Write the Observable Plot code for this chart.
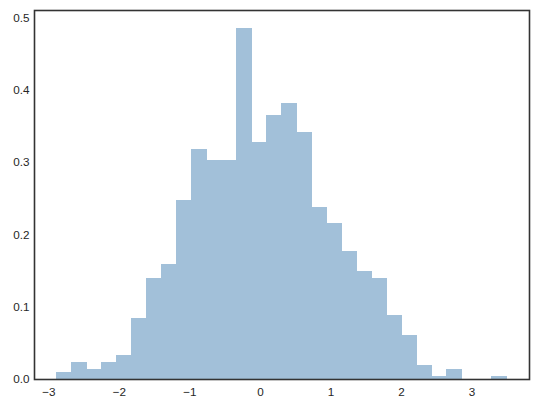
<!DOCTYPE html>
<html>
<head>
<meta charset="utf-8">
<script src="https://cdn.jsdelivr.net/npm/d3@7"></script>
<script src="https://cdn.jsdelivr.net/npm/@observablehq/plot@0.6"></script>
<style>
  html, body { margin: 0; padding: 0; background: #fff; }
  #chart svg { display: block; }
</style>
</head>
<body>
<div id="chart"></div>
<script>
// Bin edges (31) and density heights (30)
const binEdges = [-2.885, -2.672, -2.460, -2.247, -2.034, -1.822, -1.609, -1.396, -1.183, -0.971,
                  -0.758, -0.545, -0.333, -0.120, 0.093, 0.306, 0.518, 0.731, 0.944, 1.156,
                  1.369, 1.582, 1.795, 2.007, 2.220, 2.433, 2.645, 2.858, 3.071, 3.284, 3.496];
const densities = [0.0094, 0.0235, 0.0141, 0.0235, 0.0329, 0.0846, 0.139, 0.159, 0.248, 0.318,
                   0.303, 0.303, 0.486, 0.328, 0.365, 0.382, 0.342, 0.238, 0.216, 0.177,
                   0.149, 0.139, 0.088, 0.061, 0.0188, 0.0047, 0.0141, 0, 0, 0.0047];
const xTicks = [-3, -2, -1, 0, 1, 2, 3];
const yTicks = [0.0, 0.1, 0.2, 0.3, 0.4, 0.5];

const bins = densities.map((d, i) => ({x1: binEdges[i], x2: binEdges[i + 1], y: d}));

const xRange = binEdges[binEdges.length - 1] - binEdges[0];
const xDomain = [binEdges[0] - 0.05 * xRange, binEdges[binEdges.length - 1] + 0.05 * xRange];
const yDomain = [0, d3.max(densities) * 1.05];

const font = "'Liberation Sans', Arial, sans-serif";

const chart = Plot.plot({
  width: 540,
  height: 408,
  marginLeft: 34,
  marginRight: 11,
  marginTop: 10,
  marginBottom: 29,
  style: {fontFamily: font, fontSize: "11.7px", color: "#262626", background: "#fff"},
  x: {domain: xDomain},
  y: {domain: yDomain},
  marks: [
    Plot.rectY(bins, {x1: "x1", x2: "x2", y: "y", fill: "#a2c0d9", insetLeft: -0.3, insetRight: -0.3, shapeRendering: "crispEdges"}),
    Plot.axisX({ticks: xTicks, tickSize: 0, tickPadding: 8, tickFormat: d3.format("d"), label: null, fontSize: "11.7px"}),
    Plot.axisY({ticks: yTicks, tickSize: 0, tickPadding: 5, tickFormat: d3.format(".1f"), label: null, fontSize: "11.7px"}),
    Plot.frame({stroke: "#333", strokeWidth: 1.6})
  ]
});
document.getElementById("chart").appendChild(chart);
</script>
</body>
</html>
